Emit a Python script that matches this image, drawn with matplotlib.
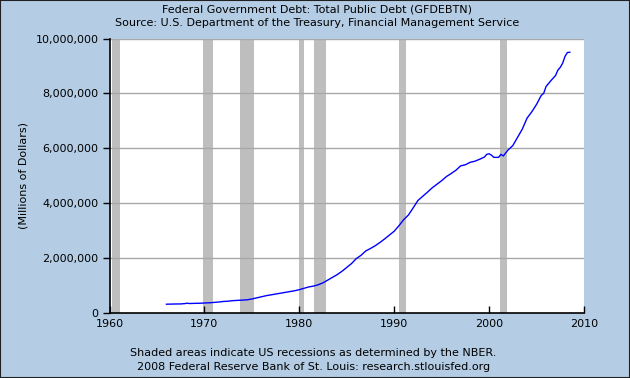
import matplotlib
matplotlib.use("Agg")
import matplotlib.pyplot as plt
from matplotlib.patches import Rectangle
from matplotlib.ticker import FuncFormatter

# total public debt, millions of dollars
years = [1966.0, 1966.5, 1967.0, 1967.5, 1968.0, 1968.2, 1968.4, 1969.0, 1969.5,
         1970.0, 1970.5, 1971.0, 1971.5, 1972.0, 1972.5, 1973.0, 1973.5, 1974.0,
         1974.5, 1975.0, 1975.5, 1976.0, 1976.5, 1977.0, 1977.5, 1978.0, 1978.5,
         1979.0, 1979.5, 1980.0, 1980.5, 1981.0, 1981.5, 1982.0, 1982.5, 1983.0,
         1983.5, 1984.0, 1984.5, 1985.0, 1985.5, 1986.0, 1986.5, 1987.0, 1987.5,
         1988.0, 1988.5, 1989.0, 1989.5, 1990.0, 1990.5, 1991.0, 1991.5, 1992.0,
         1992.5, 1993.0, 1993.5, 1994.0, 1994.5, 1995.0, 1995.5, 1996.0, 1996.5,
         1997.0, 1997.5, 1998.0, 1998.5, 1999.0, 1999.5, 1999.75, 2000.0, 2000.25,
         2000.5, 2001.0, 2001.25, 2001.5, 2001.75, 2002.0, 2002.5, 2003.0, 2003.5,
         2004.0, 2004.5, 2005.0, 2005.5, 2005.75, 2006.0, 2006.5, 2007.0, 2007.25,
         2007.5, 2007.75, 2008.0, 2008.25, 2008.5]
debt = [320000, 325000, 329000, 330000, 345000, 358000, 345000, 352000, 355000,
        365000, 372000, 385000, 400000, 420000, 430000, 450000, 460000, 470000,
        480000, 510000, 550000, 590000, 630000, 660000, 690000, 720000, 750000,
        780000, 810000, 850000, 900000, 950000, 980000, 1030000, 1100000, 1200000,
        1300000, 1400000, 1520000, 1660000, 1800000, 1980000, 2100000, 2260000, 2350000,
        2450000, 2570000, 2700000, 2840000, 2980000, 3180000, 3400000, 3570000, 3830000,
        4100000, 4250000, 4400000, 4560000, 4690000, 4820000, 4970000, 5080000, 5200000,
        5360000, 5400000, 5490000, 5530000, 5600000, 5680000, 5780000, 5800000, 5750000,
        5670000, 5670000, 5780000, 5720000, 5830000, 5940000, 6100000, 6400000, 6700000,
        7100000, 7330000, 7600000, 7930000, 8000000, 8250000, 8460000, 8650000, 8850000,
        8950000, 9100000, 9350000, 9490000, 9500000]

# NBER recessions (start, end)
rec_start = [1960.25, 1969.9, 1973.8, 1980.0, 1981.5, 1990.5, 2001.1]
rec_end = [1961.1, 1970.9, 1975.2, 1980.5, 1982.85, 1991.2, 2001.9]

xticks = [1960, 1970, 1980, 1990, 2000, 2010]
yticks = [0, 2000000, 4000000, 6000000, 8000000, 10000000]

bg = "#b4cde5"
fig = plt.figure(figsize=(6.3, 3.78), dpi=100, facecolor=bg)
fig.patches.append(Rectangle((0, 0), 1, 1, transform=fig.transFigure,
                             fill=False, edgecolor="#202020", linewidth=1.5))
ax = fig.add_axes([109.5 / 630, 65 / 378, 474.5 / 630, 274.5 / 378])
ax.set_facecolor("white")

for s, e in zip(rec_start, rec_end):
    ax.axvspan(s, e, color="#bebebe", linewidth=0, zorder=1)

for y in yticks[1:]:
    ax.axhline(y, color="#a8a8a8", linewidth=1, zorder=2)

ax.plot(years, debt, color="#0000ff", linewidth=1, zorder=3)

ax.set_xlim(1960, 2010)
ax.set_ylim(0, 10000000)
ax.set_xticks(xticks)
ax.set_yticks(yticks)
ax.yaxis.set_major_formatter(FuncFormatter(lambda v, p: f"{int(v):,}"))
ax.tick_params(axis="x", direction="in", length=5, width=1, labelsize=8, pad=4)
ax.tick_params(axis="y", direction="out", length=5, width=1, labelsize=8, pad=3)

for side in ["top", "right"]:
    ax.spines[side].set_visible(False)
for side in ["left", "bottom"]:
    ax.spines[side].set_color("black")
    ax.spines[side].set_linewidth(1.2)

ax.set_ylabel("(Millions of Dollars)", fontsize=8, labelpad=5)

fig.text(0.503, 1 - 9.5 / 378, "Federal Government Debt: Total Public Debt (GFDEBTN)",
         ha="center", va="center", fontsize=8)
fig.text(0.503, 1 - 23.5 / 378, "Source: U.S. Department of the Treasury, Financial Management Service",
         ha="center", va="center", fontsize=8)
fig.text(0.497, 1 - 353 / 378, "Shaded areas indicate US recessions as determined by the NBER.",
         ha="center", va="center", fontsize=8)
fig.text(0.497, 1 - 367 / 378, "2008 Federal Reserve Bank of St. Louis: research.stlouisfed.org",
         ha="center", va="center", fontsize=8)

fig.savefig("out.png", dpi=100, facecolor=bg)
